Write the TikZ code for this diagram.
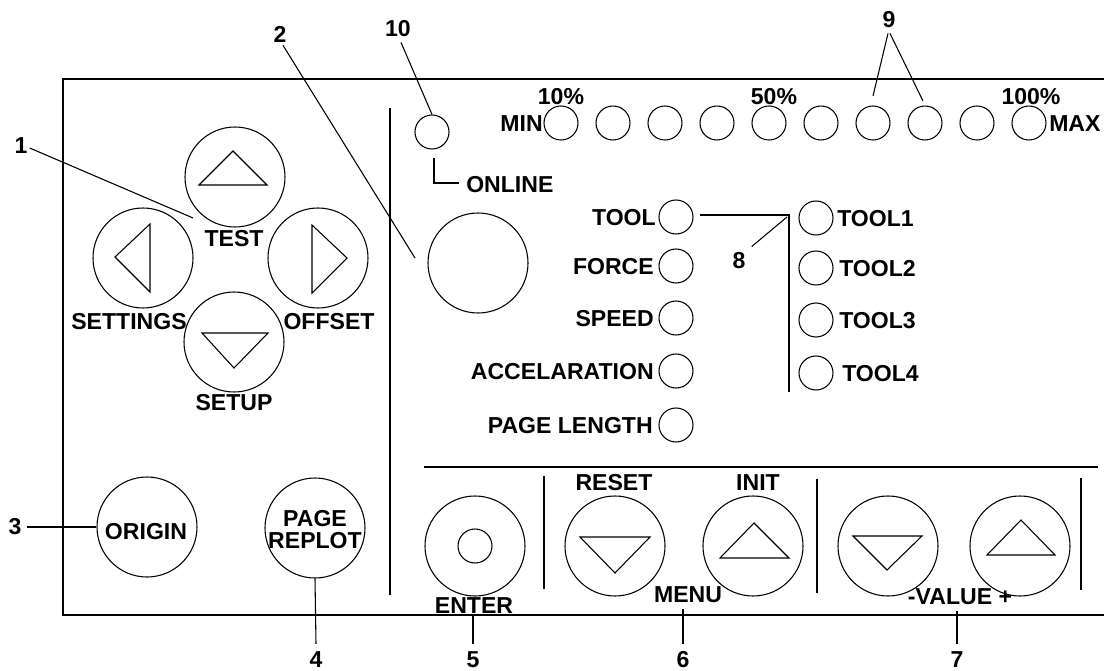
\documentclass[tikz,border=0pt]{standalone}
\usepackage{fontspec}
\setmainfont{Liberation Sans}
\begin{document}
\begin{tikzpicture}[x=0.75pt,y=-0.75pt,
  lbl/.style={font=\fontsize{17.3}{18}\selectfont\bfseries, inner sep=0pt},
  btn/.style={circle, draw, line width=0.8pt, minimum size=75pt, inner sep=0pt},
  led/.style={circle, draw, line width=0.8pt, minimum size=25.5pt, inner sep=0pt},
  frameline/.style={line width=1.5pt},
  sepline/.style={line width=1.2pt},
  lead/.style={line width=0.8pt},
  tri/.style={line width=0.8pt, line join=miter}]
\useasboundingbox (0,0) rectangle (1104,671);

% frame and dividers
\draw[frameline] (1104,79) -- (63,79) -- (63,615) -- (1104,615);
\draw[sepline] (390,108) -- (390,595);
\draw[sepline] (424,467) -- (1098,467);
\draw[sepline] (544,476) -- (544,589);
\draw[sepline] (817,479) -- (817,593);
\draw[sepline] (1081,478) -- (1081,590);

% arrow pad
\node[btn] (up) at (235,177) {};
\node[btn] (left) at (143,258) {};
\node[btn] (right) at (318,258) {};
\node[btn] (down) at (234,342) {};
\draw[tri] (199,185) -- (233,151) -- (267,185) -- cycle;
\draw[tri] (150,224) -- (115,257) -- (150,292) -- cycle;
\draw[tri] (312,225) -- (347,258) -- (312,293) -- cycle;
\draw[tri] (202,333) -- (234,368) -- (268,333) -- cycle;
\node[lbl] (ttest) at (234,239) {TEST};
\node[lbl] (tsettings) at (129,322) {SETTINGS};
\node[lbl] (toffset) at (329,322) {OFFSET};
\node[lbl] (tsetup) at (234,403) {SETUP};

% big button 2
\node[btn] (big) at (478,263) {};

% online LED
\node[led] (onl) at (432,132) {};
\coordinate (onlc) at (434,158);
\coordinate (onld) at (434,183);
\node[lbl, anchor=west] (tonline) at (466,185) {ONLINE};
\draw[lead] (onlc) -- (onld) -- (459,183);

% level LEDs
\foreach \i in {0,...,9} {
  \node[led] (lv\i) at ({561+52*\i},123) {};
}
\node[lbl, anchor=east] (tmin) at (543,124) {MIN};
\node[lbl, anchor=west] (tmax) at (1049,124) {MAX};
\node[lbl] (t10) at (561,97) {10\%};
\node[lbl] (t50) at (774,97) {50\%};
\node[lbl] (t100) at (1031,97) {100\%};

% parameter LEDs
\node[led] (ltool) at (676,217) {};
\node[led] (lforce) at (676,266) {};
\node[led] (lspeed) at (676,318) {};
\node[led] (lacc) at (676,371) {};
\node[led] (lpage) at (676,425) {};
\node[lbl, anchor=east] at (656,218) {TOOL};
\node[lbl, anchor=east] at (654,267) {FORCE};
\node[lbl, anchor=east] at (654,319) {SPEED};
\node[lbl, anchor=east] at (654,372) {ACCELARATION};
\node[lbl, anchor=east] at (653,426) {PAGE LENGTH};

% tool LEDs
\node[led] (lt1) at (816,218) {};
\node[led] (lt2) at (816,268) {};
\node[led] (lt3) at (816,320) {};
\node[led] (lt4) at (816,373) {};
\node[lbl, anchor=west] at (837,219) {TOOL1};
\node[lbl, anchor=west] at (839,269) {TOOL2};
\node[lbl, anchor=west] at (839,321) {TOOL3};
\node[lbl, anchor=west] at (842,374) {TOOL4};
\coordinate (tj) at (789,215);
\coordinate (tb) at (789,392);
\draw[lead] (700,215) -- (tj) -- (tb);

% bottom left buttons
\node[btn] (origin) at (147,527) {};
\node[lbl] (torigin) at (146,532) {ORIGIN};
\node[btn] (replot) at (315,528) {};
\node[lbl] (tpage) at (315,519) {PAGE};
\node[lbl] (treplot) at (315,541) {REPLOT};

% bottom panel
\node[btn] (enter) at (475,546) {};
\node[led] (enterin) at (475,546) {};
\node[lbl] (tenter) at (474,606) {ENTER};
\node[btn] (reset) at (615,546) {};
\draw[tri] (580,537) -- (615,573) -- (650,537) -- cycle;
\node[lbl] (treset) at (614,483) {RESET};
\node[btn] (init) at (753,546) {};
\draw[tri] (720,558) -- (754,523) -- (789,558) -- cycle;
\node[lbl] (tinit) at (758,483) {INIT};
\node[lbl] (tmenu) at (688,595) {MENU};
\node[btn] (vminus) at (888,546) {};
\draw[tri] (853,536) -- (887,570) -- (922,536) -- cycle;
\node[btn] (vplus) at (1020,546) {};
\draw[tri] (987,555) -- (1021,520) -- (1055,555) -- cycle;
\node[lbl] (tvalue) at (960,597) {-VALUE +};

% callouts
\node[lbl] (n1) at (21,146) {1};
\coordinate (c1) at (193,218);
\draw[lead] (n1.east) ++(2,2) -- (c1);
\node[lbl] (n2) at (280,34) {2};
\coordinate (c2) at (415,258);
\draw[lead] (n2.south) ++(3,3) -- (c2);
\node[lbl] (n3) at (15,527) {3};
\draw[lead] (n3.east) ++(5,0) -- (origin.west);
\node[lbl] (n4) at (316,660) {4};
\draw[lead] (n4.north) ++(0,-8) -- (replot.south);
\node[lbl] (n5) at (473,660) {5};
\draw[lead] (n5.north) ++(0,-8) -- (n5.north |- tenter.south);
\node[lbl] (n6) at (683,660) {6};
\draw[lead] (n6.north) ++(0,-8) -- ([yshift=-4]n6.north |- tmenu.south);
\node[lbl] (n7) at (957,660) {7};
\draw[lead] (n7.north) ++(0,-8) -- ([yshift=-4]n7.north |- tvalue.south);
\node[lbl] (n8) at (739,261) {8};
\coordinate (c8) at (787,217);
\draw[lead] (n8.north east) ++(6,-6) -- (c8);
\node[lbl] (n9) at (889,20) {9};
\coordinate (c9a) at (873,96);
\coordinate (c9b) at (923,101);
\draw[lead] (n9.south) ++(-1,5) -- (c9a);
\draw[lead] (n9.south) ++(1,5) -- (c9b);
\node[lbl] (n10) at (398,29) {10};
\draw[lead] (n10.south) ++(3,5) -- (onl.north);
\end{tikzpicture}
\end{document}
